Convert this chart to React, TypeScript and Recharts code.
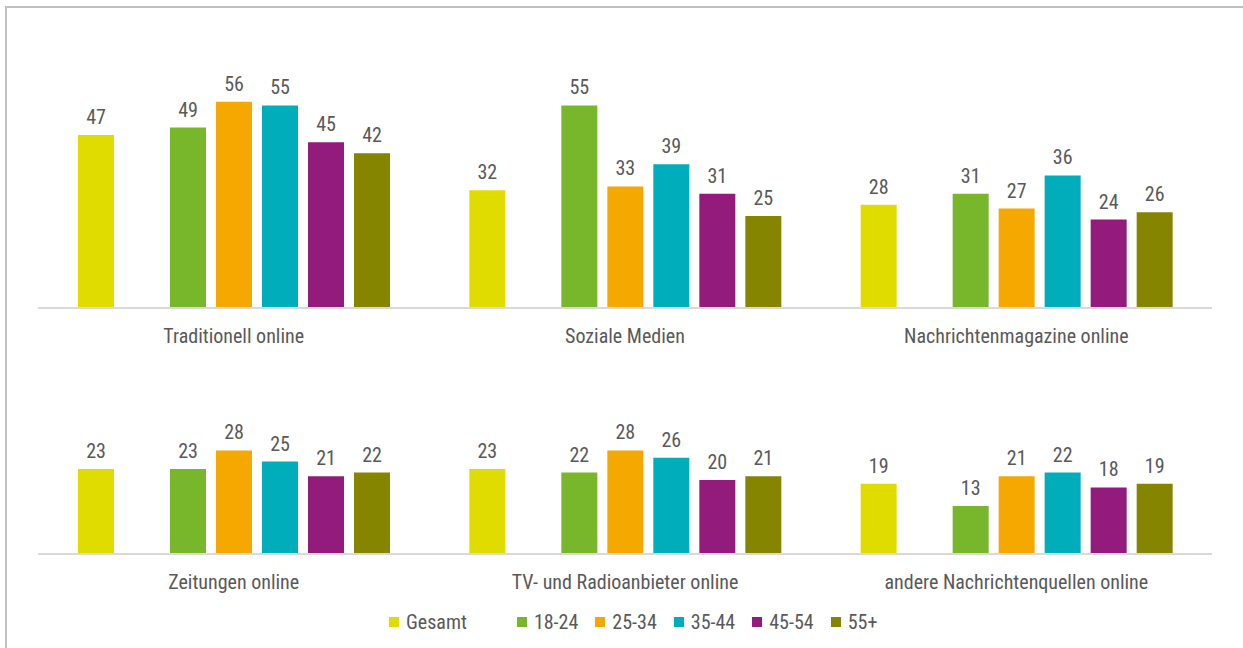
import { BarChart, Bar, XAxis, YAxis, LabelList } from "recharts"

const topCategories = ["Traditionell online", "Soziale Medien", "Nachrichtenmagazine online"]
const bottomCategories = ["Zeitungen online", "TV- und Radioanbieter online", "andere Nachrichtenquellen online"]

// order: top row (3) then bottom row (3)
const gesamt = [47, 32, 28, 23, 23, 19]
const age18 = [49, 55, 31, 23, 22, 13]
const age25 = [56, 33, 27, 28, 28, 21]
const age35 = [55, 39, 36, 25, 26, 22]
const age45 = [45, 31, 24, 21, 20, 18]
const age55 = [42, 25, 26, 22, 21, 19]

const series = [
  { key: "gesamt", name: "Gesamt", color: "#e0dc00", values: gesamt },
  { key: "a18", name: "18-24", color: "#78b72c", values: age18 },
  { key: "a25", name: "25-34", color: "#f5a800", values: age25 },
  { key: "a35", name: "35-44", color: "#00aebb", values: age35 },
  { key: "a45", name: "45-54", color: "#931b7c", values: age45 },
  { key: "a55", name: "55+", color: "#868500", values: age55 },
]

const FONT = "'Liberation Sans Narrow', 'Roboto Condensed', Roboto, sans-serif"
const TEXT = "#595959"

function rows(cats: string[], start: number) {
  return cats.map((name, i) => {
    const row: Record<string, any> = { name }
    series.forEach((s) => {
      row[s.key] = s.values[start + i]
    })
    return row
  })
}

function Panel({ data, max, plotH, top }: { data: any[]; max: number; plotH: number; top: number }) {
  return (
    <BarChart
      width={1243}
      height={top + plotH + 50}
      data={data}
      margin={{ top, right: 31, bottom: 10, left: 38 }}
      barSize={36}
      barGap={10}
    >
      <XAxis
        dataKey="name"
        axisLine={{ stroke: "#d9d9d9", strokeWidth: 2 }}
        tickLine={false}
        tickSize={0}
        tickMargin={21}
        tick={{ fill: TEXT, fontSize: 20, fontFamily: FONT }}
        height={40}
      />
      <YAxis hide domain={[0, max]} />
      {series.map((s, i) => [
        <Bar key={s.key} dataKey={s.key} fill={s.color} isAnimationActive={false}>
          <LabelList dataKey={s.key} position="top" offset={11} fill={TEXT} fontSize={20} fontFamily={FONT} />
        </Bar>,
        i === 0 ? <Bar key="spacer" dataKey="spacer" fill="none" legendType="none" isAnimationActive={false} /> : null,
      ])}
    </BarChart>
  )
}

export default function App() {
  return (
    <div style={{ position: "absolute", left: 0, top: 0, width: 1243, height: 648, overflow: "hidden", background: "#fff", fontFamily: FONT }}>
      <div style={{ position: "absolute", left: 5, top: 6, width: 1260, height: 680, border: "2px solid #c0c0c0" }} />
      <div style={{ position: "absolute", left: 0, top: 0 }}>
        <Panel data={rows(topCategories, 0)} max={60} plotH={221} top={87} />
      </div>
      <div style={{ position: "absolute", left: 0, top: 380 }}>
        <Panel data={rows(bottomCategories, 3)} max={30} plotH={111} top={63} />
      </div>
      <div style={{ position: "absolute", left: 389, top: 611, display: "flex", alignItems: "center", fontSize: 20, color: TEXT, lineHeight: "22px" }}>
        {series.map((s, i) => (
          <div key={s.key} style={{ display: "flex", alignItems: "center", marginRight: i === 0 ? 50 : 17 }}>
            <span style={{ width: 10, height: 10, background: s.color, marginRight: 7, display: "inline-block" }} />
            <span>{s.name}</span>
          </div>
        ))}
      </div>
    </div>
  )
}
